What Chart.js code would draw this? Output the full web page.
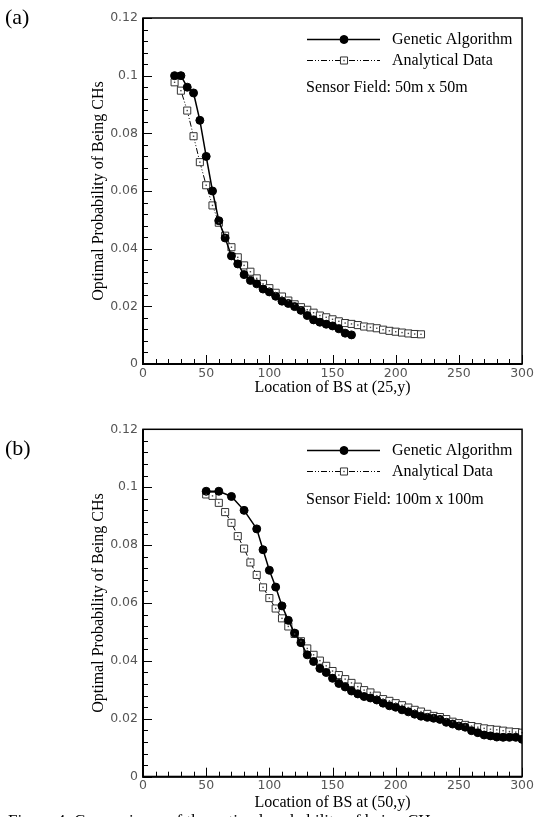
<!DOCTYPE html>
<html>
<head>
<meta charset="utf-8">
<script src="https://cdn.jsdelivr.net/npm/chart.js@4.4.0/dist/chart.umd.min.js"></script>
<style>
  body { margin: 0; width: 536px; height: 817px; overflow: hidden; background: #fff; position: relative; }
  .wrap { position: absolute; left: 0; width: 536px; }
  .tag { position: absolute; left: 5px; font-family: "Liberation Serif", "Times New Roman", serif; font-size: 22px; line-height: 1; }
  .cap { position: absolute; left: 8px; top: 812px; white-space: nowrap; font-family: "Liberation Serif", "Times New Roman", serif; font-size: 17px; line-height: 1; }
</style>
</head>
<body>
<div class="wrap" style="top:0;height:400px"><canvas id="chartA"></canvas></div>
<div class="wrap" style="top:400px;height:417px"><canvas id="chartB"></canvas></div>
<div class="tag" style="top:6px">(a)</div>
<div class="tag" style="top:437px">(b)</div>
<div class="cap">Figure 4: Comparisons of the optimal probability of being CHs</div>
<script>
// (a) sensor field 50m x 50m, BS at (25,y)
const gaXA = [25,30,35,40,45,50,55,60,65,70,75,80,85,90,95,100,105,110,115,120,125,130,135,140,145,150,155,160,165];
const gaYA = [0.1,0.1,0.096,0.094,0.0845,0.072,0.060,0.0497,0.0437,0.0375,0.0347,0.031,0.029,0.0278,0.026,0.025,0.0235,0.0218,0.021,0.0199,0.0186,0.0168,0.0153,0.0145,0.0138,0.0132,0.0122,0.0107,0.0101];
const anXA = [25,30,35,40,45,50,55,60,65,70,75,80,85,90,95,100,105,110,115,120,125,130,135,140,145,150,155,160,165,170,175,180,185,190,195,200,205,210,215,220];
const anYA = [0.0977,0.0948,0.0879,0.079,0.070,0.062,0.055,0.049,0.0445,0.0405,0.037,0.0342,0.032,0.0297,0.0278,0.0263,0.0247,0.0234,0.022,0.0207,0.0197,0.0188,0.0178,0.0168,0.0162,0.0155,0.0148,0.0142,0.0139,0.0135,0.013,0.0127,0.0124,0.0119,0.0115,0.0112,0.0109,0.0106,0.0104,0.0103];

// (b) sensor field 100m x 100m, BS at (50,y)
const gaXB = [50,60,70,80,90,95,100,105,110,115,120,125,130,135,140,145,150,155,160,165,170,175,180,185,190,195,200,205,210,215,220,225,230,235,240,245,250,255,260,265,270,275,280,285,290,295,300];
const gaYB = [0.0986,0.0986,0.0968,0.092,0.0856,0.0784,0.0713,0.0655,0.059,0.054,0.0496,0.0463,0.0421,0.0398,0.0374,0.036,0.034,0.0322,0.031,0.0296,0.0286,0.0277,0.0272,0.0265,0.0254,0.0245,0.024,0.0231,0.0224,0.0216,0.0209,0.0205,0.0202,0.0198,0.0188,0.0182,0.0175,0.0171,0.0159,0.0152,0.0144,0.0141,0.0137,0.0136,0.0136,0.0136,0.0129];
const anXB = [50,55,60,65,70,75,80,85,90,95,100,105,110,115,120,125,130,135,140,145,150,155,160,165,170,175,180,185,190,195,200,205,210,215,220,225,230,235,240,245,250,255,260,265,270,275,280,285,290,295,300];
const anYB = [0.0975,0.097,0.0946,0.0914,0.0877,0.0831,0.0788,0.074,0.0697,0.0654,0.0617,0.0581,0.0547,0.0519,0.0493,0.0468,0.0443,0.0421,0.0401,0.0383,0.0365,0.0351,0.0337,0.0324,0.0311,0.0299,0.0291,0.028,0.0268,0.0262,0.0254,0.0247,0.0239,0.0231,0.0225,0.0217,0.021,0.0206,0.0199,0.019,0.0185,0.0179,0.0175,0.0171,0.0167,0.0164,0.0162,0.0159,0.0156,0.0154,0.0152];

const xTicks = [0, 50, 100, 150, 200, 250, 300];
const yTicks = [0, 0.02, 0.04, 0.06, 0.08, 0.1, 0.12];
const seriesNames = ['Genetic Algorithm', 'Analytical Data'];

const serif = '"Liberation Serif", "Times New Roman", serif';
const sans = '"DejaVu Sans", sans-serif';

function pts(xs, ys) {
  return xs.map((x, i) => ({x: x, y: ys[i]}));
}

// inward ticks, box frame, legend and note
const frame = {
  id: 'frame',
  afterDatasetsDraw(chart) {
    // little dot inside every square marker
    const ctx = chart.ctx;
    const meta = chart.getDatasetMeta(1);
    ctx.save();
    ctx.fillStyle = '#444';
    meta.data.forEach(el => ctx.fillRect(el.x - 0.7, el.y - 0.7, 1.4, 1.4));
    ctx.restore();
  },
  afterDraw(chart, args, opts) {
    const {ctx, chartArea: a, scales: {x, y}} = chart;
    ctx.save();
    ctx.strokeStyle = '#000';
    ctx.lineWidth = 1;
    ctx.beginPath();
    for (let v = 0; v <= 300; v += 10) {
      const px = Math.round(x.getPixelForValue(v)) + 0.5;
      const len = v % 50 === 0 ? 9 : 5;
      ctx.moveTo(px, a.bottom);
      ctx.lineTo(px, a.bottom - len);
    }
    for (let i = 0; i <= 30; i++) {
      const py = Math.round(y.getPixelForValue(i * 0.004)) + 0.5;
      const len = i % 5 === 0 ? 9 : 5;
      ctx.moveTo(a.left, py);
      ctx.lineTo(a.left + len, py);
    }
    ctx.stroke();

    ctx.lineWidth = 1.5;
    ctx.strokeRect(a.left, a.top, a.right - a.left, a.bottom - a.top);
    ctx.lineWidth = 2;
    ctx.beginPath();
    ctx.moveTo(a.left, a.top);
    ctx.lineTo(a.left, a.bottom);
    ctx.lineTo(a.right, a.bottom);
    ctx.stroke();

    // legend
    const x0 = Math.round(a.right - 215), x1 = Math.round(a.right - 142);
    const xm = Math.round(a.right - 178), tx = Math.round(a.right - 130);
    const rows = [Math.round(a.top + 21) + 0.5, Math.round(a.top + 42) + 0.5];
    chart.data.datasets.forEach((ds, i) => {
      const ly = rows[i];
      ctx.save();
      ctx.strokeStyle = ds.borderColor;
      ctx.lineWidth = ds.borderWidth;
      ctx.setLineDash(ds.borderDash || []);
      ctx.beginPath();
      ctx.moveTo(x0, ly);
      ctx.lineTo(x1, ly);
      ctx.stroke();
      ctx.restore();
      ctx.save();
      ctx.fillStyle = ds.pointBackgroundColor;
      ctx.strokeStyle = ds.pointBorderColor;
      ctx.lineWidth = ds.pointBorderWidth;
      Chart.helpers.drawPoint(ctx, {pointStyle: ds.pointStyle, radius: ds.pointRadius, borderWidth: ds.pointBorderWidth}, xm, ly);
      if (i === 1) {
        ctx.fillStyle = '#444';
        ctx.fillRect(xm - 0.7, ly - 0.7, 1.4, 1.4);
      }
      ctx.restore();
      ctx.fillStyle = '#000';
      ctx.font = '16px ' + serif;
      ctx.textAlign = 'left';
      ctx.textBaseline = 'middle';
      ctx.fillText(ds.label, tx, ly);
    });
    ctx.fillText(opts.note, x0 - 1, a.top + 70);
    ctx.restore();
  }
};

function makeChart(id, ga, an, xTitle, note, pad, xH) {
  return new Chart(document.getElementById(id), {
    type: 'scatter',
    data: {
      datasets: [{
        label: seriesNames[0],
        data: ga,
        showLine: true,
        borderColor: '#000',
        borderWidth: 1.5,
        pointStyle: 'circle',
        pointRadius: 4,
        pointBackgroundColor: '#000',
        pointBorderColor: '#000',
        pointBorderWidth: 1
      }, {
        label: seriesNames[1],
        data: an,
        showLine: true,
        borderColor: '#000',
        borderWidth: 1,
        borderDash: [6, 2, 1, 2, 1, 2],
        pointStyle: 'rect',
        pointRadius: 5,
        pointBackgroundColor: '#fff',
        pointBorderColor: '#333',
        pointBorderWidth: 1
      }]
    },
    options: {
      responsive: true,
      maintainAspectRatio: false,
      animation: false,
      layout: {padding: pad},
      plugins: {
        legend: {display: false},
        tooltip: {enabled: false},
        frame: {note: note}
      },
      scales: {
        x: {
          type: 'linear',
          min: 0, max: 300,
          afterBuildTicks: s => { s.ticks = xTicks.map(v => ({value: v})); },
          afterFit: s => { s.height = xH; },
          grid: {display: false, drawTicks: false},
          border: {display: false},
          ticks: {color: '#555', font: {family: sans, size: 12.5}, padding: 2, maxRotation: 0},
          title: {display: true, text: xTitle, color: '#000', font: {family: serif, size: 16}, padding: 0}
        },
        y: {
          type: 'linear',
          min: 0, max: 0.12,
          afterBuildTicks: s => { s.ticks = yTicks.map(v => ({value: v})); },
          afterFit: s => { s.width = 143 - pad.left; },
          grid: {display: false, drawTicks: false},
          border: {display: false},
          ticks: {color: '#555', font: {family: sans, size: 12.5}, padding: 5,
                  callback: v => String(parseFloat(v.toFixed(2)))},
          title: {display: true, text: 'Optimal Probability of Being CHs', color: '#000', font: {family: serif, size: 16}, padding: 0}
        }
      }
    },
    plugins: [frame]
  });
}

makeChart('chartA', pts(gaXA, gaYA), pts(anXA, anYA), 'Location of BS at (25,y)',
  'Sensor Field: 50m x 50m', {left: 89, right: 12, top: 18, bottom: 2.4}, 33.6);
makeChart('chartB', pts(gaXB, gaYB), pts(anXB, anYB), 'Location of BS at (50,y)',
  'Sensor Field: 100m x 100m', {left: 89, right: 11, top: 29.3, bottom: 4.4}, 35.9);
</script>
</body>
</html>
